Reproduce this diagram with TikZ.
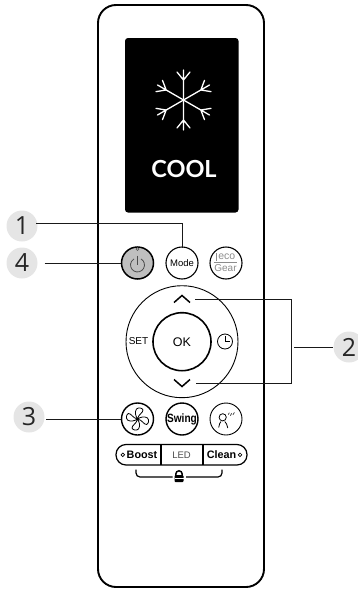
\documentclass[tikz,border=0pt]{standalone}
\usepackage{fontspec}
\setmainfont{Liberation Sans}
\newfontfamily\numfont{Open Sans}
\newfontfamily\coolfont{Lato}
\begin{document}
\begin{tikzpicture}[x=1pt,y=-1pt,
  lead/.style={line width=0.9pt,black!90},
  badge/.style={circle,fill=black!10,minimum size=31pt,inner sep=0pt,font=\numfont\fontsize{25}{25}\selectfont,text=black!85},
  btn/.style={circle,draw=black,minimum size=32pt,inner sep=0pt},
  barlabel/.style={font=\bfseries\fontsize{10.8}{12}\selectfont,inner sep=0pt},
  icon/.style={line width=0.8pt,black}]
\useasboundingbox (0,0) rectangle (358,589);
% body and screen
\draw[line width=1.9pt,rounded corners=18pt] (98,5) rectangle (264,587);
\fill[black,rounded corners=3pt] (125,38) rectangle (238.5,212.5);
% snowflake
\coordinate (snow) at (183.5,100);
\foreach \a in {90,150,210,270,330,30}{
  \begin{scope}[shift={(snow)},rotate=\a]
    \draw[white,line width=1.3pt,line cap=round] (0,0) -- (30,0) (20,0) -- (28,-6.5) (20,0) -- (28,6.5);
  \end{scope}}
\node[white,font=\coolfont\bfseries\fontsize{23.5}{24}\selectfont,inner sep=0pt] (cool) at (184,169) {COOL};
% top row
\node[btn,fill=black!25,line width=1.5pt] (pow) at (137.5,263) {};
\node[btn,line width=1.1pt,font=\fontsize{9.5}{10}\selectfont] (mode) at (182,263) {Mode};
\node[btn,line width=1.1pt] (eco) at (226,263) {};
\draw[black!70,line width=0.7pt] (137.5,255.7) -- (137.5,265);
\draw[black!70,line width=0.8pt] (141,258.9) arc[start angle=60,end angle=-240,radius=7pt];
\node[circle,draw=black!70,fill=black!25,line width=0.6pt,minimum size=3pt,inner sep=0pt] (led) at (137.5,249) {};
\node[text=black!45,font=\fontsize{10.5}{11}\selectfont,inner sep=0pt] (ecot) at (226.8,256.8) {eco};
\node[text=black!45,font=\fontsize{10}{10}\selectfont,inner sep=0pt] (gear) at (225.5,268) {Gear};
\draw[black!45,line width=0.8pt] (216,253) -- (216,261) (213.5,262.3) -- (236.7,262.3);
% dial
\node[circle,draw=black,line width=0.9pt,minimum size=112pt,inner sep=0pt] (dial) at (182,341.7) {};
\node[circle,draw=black,line width=1.6pt,minimum size=58pt,inner sep=0pt,font=\fontsize{12.5}{14}\selectfont] (ok) at (182,341.7) {OK};
\node[font=\fontsize{10}{10}\selectfont,inner sep=0pt] (set) at (138.5,341.5) {SET};
\node[circle,draw=black,line width=0.8pt,minimum size=15pt,inner sep=0pt] (timer) at (225,341.5) {};
\draw[icon] (225,336) -- (225,341.5) -- (229.5,341.5);
\coordinate (up) at (182,299);
\coordinate (down) at (182,383);
\draw[line width=1.5pt] (174,302.5) -- (182,295.5) -- (190,302.5);
\draw[line width=1.5pt] (174,379.5) -- (182,386.5) -- (190,379.5);
% bottom row
\node[btn,line width=1.4pt] (fan) at (137.5,419) {};
\node[btn,line width=1.4pt] (swing) at (182,419) {};
\node[font=\bfseries\fontsize{12}{12}\selectfont,xscale=0.84,inner sep=0pt] (swingt) at (182,419) {Swing};
\node[btn,line width=0.9pt] (person) at (226,419) {};
\foreach \a in {0,90,180,270}{
  \begin{scope}[shift={(fan)},rotate=\a]
    \draw[icon,line join=round] (0,0) .. controls (-2,-3) and (-3,-7) .. (-1,-10) .. controls (1,-12) and (5,-11) .. (5.5,-9) .. controls (5.5,-6) and (1,-5) .. (0,0);
  \end{scope}}
\draw[icon] (222.7,417.3) circle[radius=3.6pt];
\draw[icon] (218.7,427.5) .. controls (219,424.5) and (220,422.5) .. (221,421.5) (224.8,421.5) .. controls (226,422.5) and (227.3,425) .. (227.8,428);
\draw[black!75,line width=0.7pt,line cap=round] (228.3,414.5) -- (229.3,412.8) (230.5,415.5) -- (231.5,413.5) (233,414.8) -- (234.3,412.5);
% button bar
\draw[line width=1.2pt,rounded corners=10pt] (116,444.5) rectangle (247,465);
\draw[line width=1.2pt] (161,444.5) -- (161,465) (203,444.5) -- (203,465);
\node[barlabel] (boost) at (142,454.8) {Boost};
\node[font=\fontsize{9.5}{10}\selectfont,text=black!70,inner sep=0pt] (ledt) at (181.5,455) {LED};
\node[barlabel] (clean) at (221.5,454.5) {Clean};
\draw[line width=0.7pt] (122.8,454.8) circle[radius=1.8pt] (240,454.8) circle[radius=1.8pt];
% lock bracket
\node[fill=black,rounded corners=1pt,minimum width=9pt,minimum height=7pt,inner sep=0pt] (lock) at (179,478.5) {};
\draw[line width=1.2pt,rounded corners=4pt] (172.5,477) -- (136,477) -- (136,469.5);
\draw[line width=1.2pt,rounded corners=4pt] (186,477) -- (222,477) -- (222,469.5);
\draw[line width=1.5pt] (175.8,476) -- (175.8,474) arc[start angle=180,end angle=0,radius=3.2pt] -- (182.2,476);
\draw[white,line width=0.7pt] (174.5,478.5) -- (183.5,478.5);
% labels
\node[badge] (l1) at (22,226) {1};
\node[badge] (l4) at (22,263) {4};
\node[badge] (l3) at (29,417) {3};
\node[badge] (l2) at (349,347) {2};
\coordinate (j2) at (291,347);
\coordinate (l1out) at (36,223);
\coordinate (l3out) at (46,419);
\draw[lead] (l1out) -| ([yshift=-2pt]mode.north);
\draw[lead] ([xshift=7pt]l4.east) -- (pow.west);
\draw[lead] (l3out) -- (fan.west);
\draw[lead] ([xshift=13pt]up) -- (291,299) -- (291,383) -- ([xshift=14pt]down);
\draw[lead] ([xshift=3pt]j2) -- (l2.west);
\end{tikzpicture}
\end{document}
